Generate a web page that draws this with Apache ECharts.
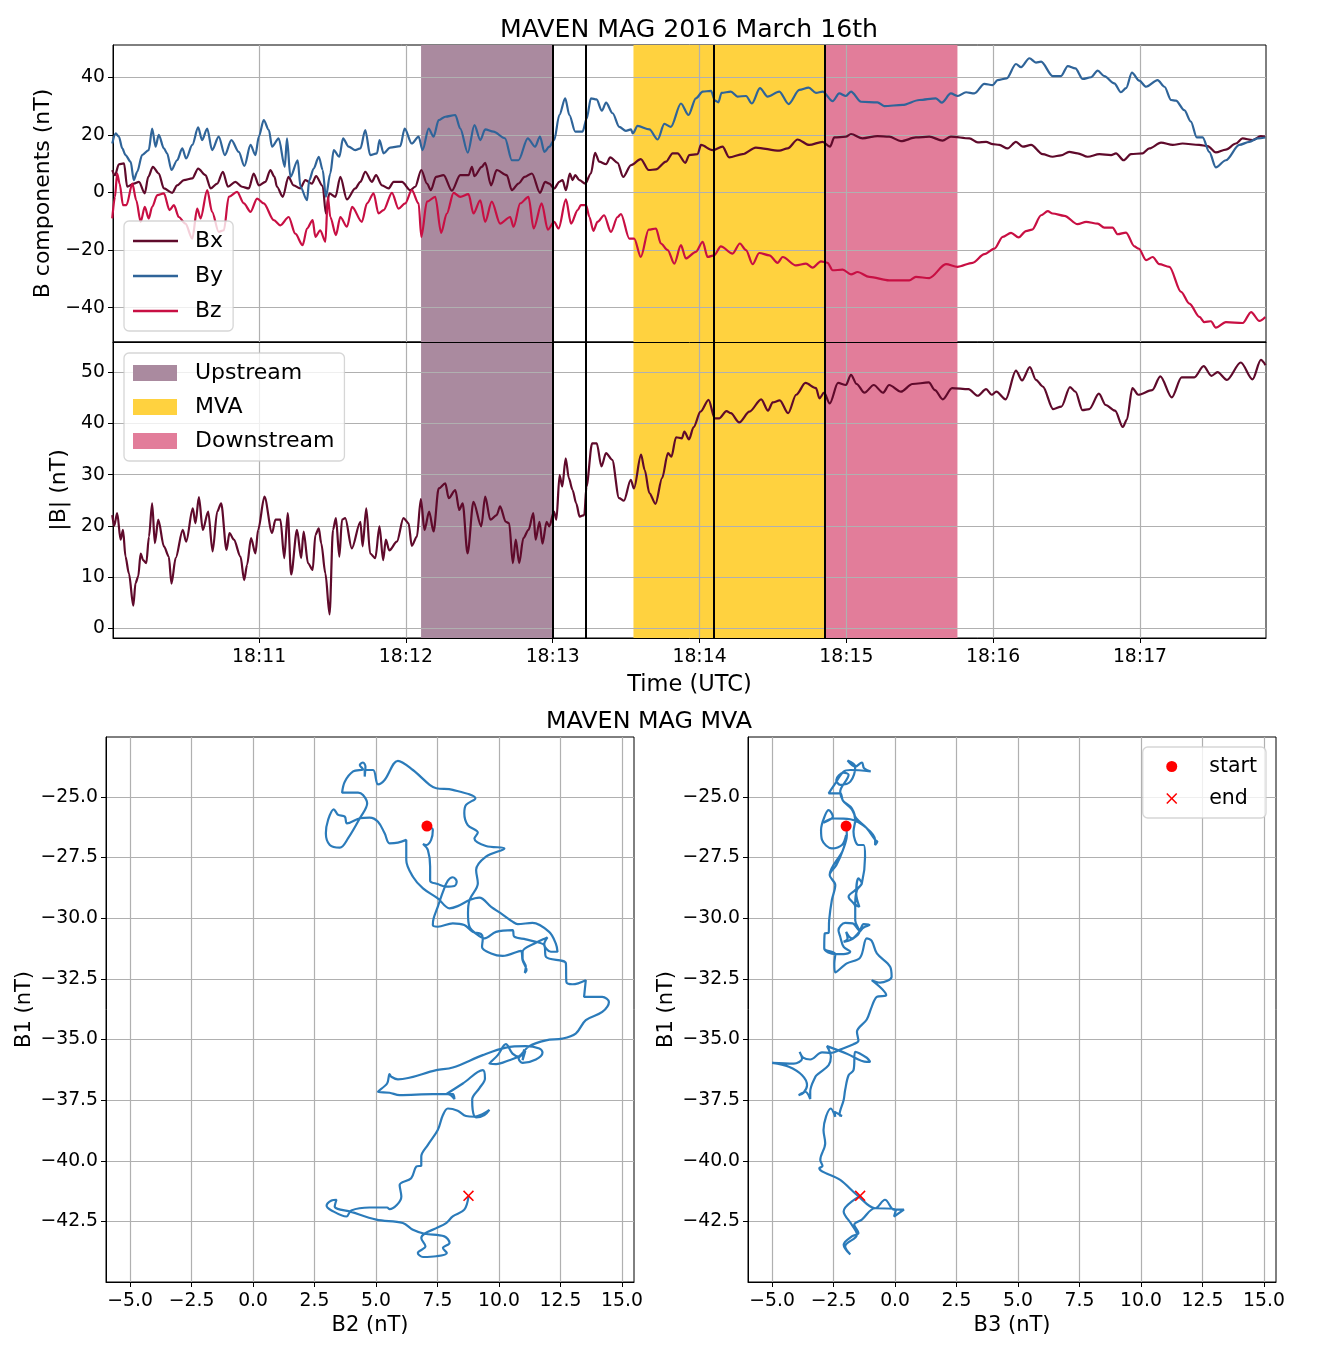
<!DOCTYPE html>
<html><head><meta charset="utf-8">
<style>html,body{margin:0;padding:0;background:#fff}#c{width:1324px;height:1356px}</style>
<script src="https://cdn.jsdelivr.net/npm/echarts@6/dist/echarts.min.js"></script>
</head><body><div id="c"></div>
<script>
// Values: [seconds after 18:10:00, nT]
const bx=[[0,7.8],[1.1,6],[2.7,9.8],[4.8,10.1],[6.1,2],[8.8,3.1],[10.9,3.7],[13.3,-0.3],[14.7,5.4],[16.6,8.9],[19,6.6],[21.1,1.4],[24.5,-0.1],[26.5,2.5],[29.3,4.3],[32.7,4.9],[35.1,8.3],[38.1,6],[40.2,1.4],[42.9,3.1],[45.2,7.2],[47.3,2],[50.3,3.7],[53,2],[55.8,1.4],[57.8,6.6],[59.9,2.5],[62.6,3.7],[64.6,7.8],[66.3,5.4],[67.3,2],[69.7,-1.5],[72,5.4],[74.1,2.5],[76.8,1.4],[78.9,4.3],[81.6,3.1],[83.3,5.7],[86,2.2],[87.3,-7.3],[88.7,-0.3],[91.2,-1.5],[93.2,5.4],[95.9,-2.4],[99.3,1.4],[101.4,3.7],[103.4,7.2],[106.1,3.7],[107.8,6],[110.2,2.5],[112.9,1.4],[115,3.7],[118.4,3.7],[121.8,0.8],[123.8,2],[126.3,7.8],[128.6,3.1],[130.2,0.8],[132.3,5.4],[135.4,6],[138.8,0.6],[142.2,6],[145.6,6],[147,8.9],[148,5.7],[151,8.9],[152.4,10.3],[154.8,2.5],[157.1,7.8],[161.2,6],[163.3,0.8],[166,3.1],[168.5,5.4],[171.5,6.6],[174.8,-0.1],[176.9,3.7],[178.6,3.1],[180.6,1.4],[182.7,3.7],[184,4.3],[185.4,0.8],[187,6.6],[188.1,4.3],[189.2,6],[190.9,4.3],[193.3,3.1],[195.6,6.6],[197.3,13.8],[199,10.7],[201.8,9.8],[203.5,12.2],[206.5,10.3],[208.8,5.4],[212,9.5],[216,11.6],[219.2,7.8],[222.2,8],[226.3,10.7],[229,13.6],[231,13.6],[234.2,10.3],[235.8,13],[239.2,13.3],[240.6,16.5],[245.3,14.7],[249.4,15.9],[252.1,12.2],[257.6,13.3],[263,15.6],[272.6,14.5],[276,15.3],[280.1,18.4],[284.8,16.5],[290.3,17.6],[293.3,15.9],[295.1,19.1],[299.8,19.4],[301.9,20.3],[306.6,18.8],[312.7,19.6],[317.5,19.4],[322.3,17.8],[328.4,19.1],[333.9,19.4],[339.3,18],[342.7,19.4],[350.3,18.8],[353.7,17.4],[357.1,17.6],[359.8,16.8],[362.5,16.5],[365.9,15.3],[369.3,17.6],[372.1,15.9],[375.5,16.5],[380.2,13.3],[384.3,12.4],[387.7,12.9],[391.1,14.1],[394.5,13.6],[398.6,12.4],[403.4,13.3],[408.2,13],[410.2,13.6],[413.3,11.2],[416.3,13.3],[421.1,13.6],[423.8,15.3],[428.6,17.3],[433.4,16.5],[437.4,17],[444.2,16.5],[447.7,16.1],[451,13.9],[455.1,14.9],[459.2,17],[461.9,18.8],[466,18.2],[469.4,19.6],[471.2,19.4]];
const by=[[0,17],[1.4,20.5],[2.7,19.4],[4.1,15.3],[5.4,13],[7.5,10.7],[8.8,4.3],[10.2,7.2],[12.2,13],[14.9,14.7],[16.3,22.2],[17.7,15.9],[19,20],[21.1,15.3],[22.4,13.6],[24.2,7.8],[26.5,11.2],[28.6,15.3],[30.2,11.8],[32.7,16.5],[35.1,22.6],[36.7,18.2],[38.8,22.2],[40.8,14.7],[43.5,19.4],[46,13],[48.7,18.2],[51.7,14.1],[54,9.2],[56.5,16.5],[58.5,13],[59.9,19.4],[61.9,25.1],[64,21.7],[65.3,15.9],[68,18.8],[70.5,8.9],[71.4,18.8],[72.8,5.4],[75.8,11.2],[76.9,2],[79.6,-2.7],[80.5,4.3],[82.3,8.3],[84.4,12.4],[86,7.8],[87.3,-1.5],[89.1,6.6],[90.5,14.7],[92.8,12.4],[94.3,18.8],[96.6,15.9],[99.3,14.7],[101.4,15.3],[103.4,21.7],[105.4,13],[108.2,13.6],[109.2,18.2],[110.9,13.6],[113.6,15.6],[117.7,16.1],[119.5,22.2],[122.4,17],[125.2,19.4],[126.8,14.7],[129.3,22.2],[131.3,19.4],[133.4,25.1],[136.1,26.3],[140.2,26.9],[142.2,22.2],[145.3,13.8],[148,23.4],[150.4,18.2],[152.4,21.9],[155.8,21.1],[160.5,18.8],[163.3,11.2],[166,11.2],[169.8,18.8],[172.8,15.9],[174.8,19.4],[176.6,14.1],[178.6,15.9],[180.6,18.2],[182.7,26.9],[185.1,32.7],[186.8,26.9],[189.2,21.1],[192.2,21.1],[193.9,25.7],[195.6,32.7],[197.9,32.3],[200.1,28.4],[201.8,31.2],[204.5,27.5],[207.2,22.8],[209.9,21.4],[212,21.9],[212.7,20.5],[214.7,23.1],[219.5,21.9],[222.9,18.4],[225.6,23.8],[228.3,22.8],[232.4,30.9],[235.5,26.9],[238.5,32.7],[241.3,35],[244.7,35.3],[246.3,31.9],[247.7,31.3],[249,34.6],[252.8,35],[255.5,33.3],[259,33.5],[261.4,30.9],[264.7,36.2],[267.8,33.3],[272.6,35],[276.4,30.7],[280.8,35.6],[284.6,36.4],[287.6,34.6],[290.3,35],[294.4,31.7],[297.1,34.4],[299.8,33.5],[301.9,35],[306,31.5],[312.7,31.3],[315.5,30],[323,30.4],[329.8,32.1],[336.6,32.7],[339,31.2],[342.7,34.4],[345.5,33.5],[348.9,34.8],[352.3,34.4],[356.4,37.7],[359.8,37.3],[361.8,39],[365.5,39.6],[369.3,44.6],[371.4,43.5],[374.8,46.6],[377.5,45.1],[379.6,45.4],[384.3,40.4],[387.7,40.4],[390.5,43.9],[393.6,43.1],[396.6,39.4],[400,40],[402.7,42.3],[405.4,40.4],[409.5,37.9],[412.2,34.8],[414.3,36.2],[416.7,41.6],[419.7,38.8],[422.5,36.7],[427.2,39],[430,36.7],[432.7,32.1],[434.7,31.9],[438.1,28.6],[440.8,24.6],[443.2,19.1],[445.6,19.1],[448.3,14.1],[451,8.7],[455.1,11.2],[460.6,16.5],[464.7,17.6],[468.1,18.8],[471.2,19.1]];
const bz=[[0,-9],[1.1,-1.5],[2,6.6],[3,3.1],[4.4,-4.4],[5.8,-4.4],[8.2,3.1],[9.8,-2.7],[11.6,-10.2],[13.3,-5],[14.9,-9],[16.3,-5],[18.4,-0.9],[21.1,-0.3],[23.4,-6.1],[25.2,-4.4],[27.2,-8.5],[29.9,-10.8],[32.7,-16],[34.7,-5.6],[36.1,-9],[38.8,0.8],[40.8,-6.7],[43.5,-13.7],[45.6,-13.1],[47.6,-1.5],[51,0.2],[53.8,-3.8],[56.5,-6.7],[59.2,-2.1],[61.9,-3.8],[66,-9.6],[68.7,-11.4],[72.1,-8.5],[74.8,-14.3],[77.8,-18.3],[79.6,-12.5],[81.9,-9.6],[83,-15.4],[85,-13.1],[87.1,-17.1],[88.1,-1.5],[89.1,-8.5],[91.4,-14.8],[93.2,-8.5],[95.9,-11.9],[98,-5],[102,-10.2],[104.1,-3.8],[106.8,-0.3],[108.8,-7.3],[110.9,-6.1],[114.3,-0.1],[117,-5.6],[119.7,-3.8],[122.4,0.8],[125.2,-3.8],[126.3,-15.4],[128.6,-3.2],[132,-1.5],[134.4,-14],[136.7,-7.3],[139.5,-0.1],[142.2,-1.5],[145.6,-0.6],[147.6,-7.3],[150.4,-2.7],[152.4,-10.2],[155.1,-3.2],[158.5,-10.8],[162.6,-8.5],[164,-11.9],[166.7,-3.8],[170.1,-1.5],[172.2,-12.5],[175.5,-3.8],[178,-12.9],[180.6,-10.2],[182.4,-12.5],[185.4,-2.4],[187.5,-10.8],[190.2,-6.1],[191.5,-4.4],[193.6,-4.4],[195,-8.5],[196.6,-13.3],[198.3,-10.2],[201,-7.9],[203.8,-13.7],[206.5,-8.5],[207.9,-7.5],[211.3,-16],[213.3,-16],[216,-22.4],[219.2,-12.9],[222.2,-12.5],[224.2,-17.7],[227,-20],[229.7,-24.7],[232.4,-18.3],[234.4,-22.9],[238.5,-20.6],[241.3,-17.1],[243.3,-22.4],[246,-21.8],[248.7,-18.7],[253.5,-21.2],[256.5,-17.7],[259,-20],[261.7,-24.9],[264.4,-21],[268.5,-21.8],[271.9,-24.4],[274,-22.4],[279.4,-25.3],[283.5,-24.7],[286.2,-26.1],[289.6,-23.9],[292.3,-24.4],[294.4,-27],[298.5,-26.8],[301.9,-28.4],[304.6,-27.6],[309.4,-29.3],[317.5,-30.5],[325.7,-30.5],[328.4,-29.3],[333.9,-29.7],[340.7,-24.9],[345.4,-25.8],[351.6,-24.4],[356.4,-21.4],[360.5,-19.5],[363.9,-15.4],[367.3,-14],[370.4,-15.6],[373.4,-13.4],[375.9,-12.9],[379.6,-7.9],[382.3,-6.5],[384.3,-7.3],[389.1,-8.1],[394.5,-11],[398,-10.2],[402.7,-10.8],[405.4,-12.2],[408.8,-12.2],[410.9,-14.5],[414.3,-13.9],[417.7,-18.7],[419.5,-19.5],[422.5,-23.5],[425.2,-22.4],[427.9,-24.9],[432,-25.8],[436.8,-34.5],[440.2,-38.6],[444.3,-43.2],[446.3,-45],[449,-44.7],[451,-46.9],[455.1,-45],[462,-45.3],[465.4,-41.5],[468.8,-44.6],[471.2,-43.2]];
const bt=[[0,22.1],[0.8,20],[2,22.5],[3.4,17.3],[4.4,19.2],[5.4,14],[6.8,10.7],[8.6,4.4],[9.5,8.8],[10.6,10.1],[11.6,14.6],[12.6,13.3],[13.9,12.7],[15,17.9],[16.3,24.4],[17.4,16.6],[18.8,21.2],[21.1,16],[23.1,14],[24.2,8.7],[25.9,13.7],[28.8,19.2],[30.2,16.9],[32.9,23.4],[34,20.5],[35.4,25.6],[37,19.2],[39.2,22.8],[41,15],[42.9,22.8],[44.5,24.4],[46.7,15.3],[47.9,18.6],[49.7,17.3],[52.4,14],[53.9,9.4],[55.1,12.4],[56.7,17.6],[58.5,14.6],[59.6,19.2],[62.2,25.7],[65.3,18.6],[66.7,21.2],[68.7,21.2],[70.3,13.7],[71.7,22.5],[73.1,10.5],[75.5,19.2],[77.2,13.7],[78.2,18.9],[80,12.7],[81.9,11.4],[83,18.2],[84.4,19.5],[85.4,16.6],[87.1,10.7],[88.8,2.7],[90.2,19.2],[91.4,21.5],[92.8,14],[93.9,21.2],[95.2,21.5],[97.9,15.6],[101.4,20.8],[102.3,16],[103.8,23.4],[105.4,14.6],[107.5,13.7],[109.2,19.9],[110.7,13.3],[111.8,17.3],[113.2,15.2],[116.3,16.9],[119,21.5],[121.1,20.5],[122.4,16.1],[124.5,17.9],[126.1,25.2],[127.6,19.2],[129.5,22.8],[131.3,18.9],[133.4,27.3],[136.1,28.3],[137.5,25.4],[140.2,27],[141.8,23.1],[143.2,24.4],[145.2,14.6],[147.6,24.7],[150.8,19.9],[152.4,25.7],[154.5,21.2],[157.1,22.1],[158.5,23.8],[160.8,20.8],[162.2,20.5],[163.7,12.7],[164.9,17.3],[166.3,12.7],[168,17.6],[170.1,19.2],[172.1,22.5],[173,17.3],[174.6,20.8],[175.8,16.5],[177.5,20.8],[178.6,19.9],[180.5,22.8],[181.5,21.2],[182.8,29.9],[183.9,27.7],[185.3,33.2],[186.6,29.3],[188.1,27],[189.6,24.4],[191,21.8],[192.9,22.1],[193.8,27.7],[196.1,36.1],[198,36.1],[199.9,31.6],[201.8,34.2],[204.3,32.9],[207.1,25.4],[209.1,24.9],[211.9,29],[213.2,27.3],[216.1,33.9],[217.6,30.9],[219.5,26.4],[222,24.3],[224.7,29.3],[227.1,34.2],[228.5,33.5],[230.4,37.3],[232.8,37.1],[233.8,38.4],[235.7,36.9],[237.6,39.3],[240.4,42.3],[243.7,44.6],[246.2,41],[248.1,41],[251,42.4],[252.8,42],[256.2,40.2],[260.4,42.3],[265.2,44.7],[268,42.5],[269.9,44.1],[272.8,44.5],[276.2,42],[279.5,45.6],[283.3,47.9],[287.6,46.9],[289,44.9],[290.9,46],[293.2,43.9],[296.6,47.9],[299.8,47.5],[301.9,49.5],[304.2,47.7],[307.4,46],[311.2,47.5],[315,46],[317.5,47.5],[322.3,46.2],[327,47.7],[333.7,48],[336.2,46.5],[339.4,44.7],[343.2,46.9],[349.9,46.7],[353.7,45.4],[357.1,46.7],[359.4,45.6],[361.3,46.2],[365.1,44.7],[369.3,50.3],[371.8,48.4],[375,51],[377.5,48.5],[380.3,47.2],[384.5,42.8],[387.9,43.3],[391.4,47.1],[393.6,46.2],[396.5,42.6],[399.3,42.8],[403.2,45.8],[406,43.6],[409.8,42.5],[413,39.3],[414.6,40.7],[416.9,46.9],[419.3,45.6],[425,46.5],[428.3,49.2],[433,45.1],[437,49],[442.2,49],[446,51.2],[449.2,49.3],[451.7,50],[455.5,48.5],[461.2,51.9],[466,48.6],[469.4,52.4],[471.3,51.4]];
// MVA hodograms: [B2, B1] and [B3, B1]
const mvaB2B1=[[7.07,-26.2],[7.31,-26.36],[7.24,-26.77],[7.04,-26.98],[6.91,-26.94],[7.11,-27.19],[7.2,-27.87],[7.2,-28.45],[7.51,-28.59],[7.85,-28.7],[8.19,-28.67],[8.28,-28.49],[8.12,-28.31],[7.92,-28.45],[7.72,-28.91],[7.51,-29.53],[7.34,-30.01],[7.31,-30.28],[7.51,-30.35],[8.12,-30.21],[8.59,-30.28],[8.93,-30.56],[9.27,-30.65],[9.34,-30.83],[9.31,-31.18],[9.68,-31.45],[10.15,-31.55],[10.89,-31.34],[10.96,-31.73],[11.12,-32.14],[11.05,-32.25],[11.09,-32],[10.96,-31.66],[10.96,-31.38],[11.5,-31.01],[11.97,-30.79],[11.84,-31.07],[12.11,-31.38],[12.38,-31.38],[12.31,-31.04],[12.04,-30.56],[11.36,-30.19],[10.76,-30.24],[10.55,-30.14],[10.08,-29.8],[9.68,-29.53],[9.2,-29.15],[8.8,-29.25],[8.32,-29.5],[7.99,-29.59],[7.51,-29.18],[6.91,-28.77],[6.5,-28.29],[6.23,-27.6],[6.23,-26.77],[5.89,-26.88],[5.55,-26.91],[5.35,-26.5],[5.08,-26.02],[4.74,-25.85],[4.34,-25.88],[3.82,-26.09],[3.73,-25.81],[3.46,-25.74],[3.28,-25.51],[3.05,-25.95],[2.96,-26.5],[3.12,-26.98],[3.53,-27.09],[3.86,-26.71],[4.34,-25.88],[4.64,-25.26],[4.47,-24.92],[4.27,-24.82],[3.62,-24.82],[3.73,-24.37],[4.07,-23.95],[4.47,-23.86],[4.34,-23.68],[4.47,-23.58],[4.57,-23.75],[4.54,-24.16],[4.54,-23.89],[4.88,-23.89],[5.08,-24.48],[5.35,-24.3],[5.89,-23.51],[6.5,-23.89],[7.18,-24.5],[7.45,-24.64],[8.12,-24.71],[9.04,-25.06],[8.66,-25.33],[8.59,-25.67],[8.73,-26.16],[9.14,-26.47],[9,-26.71],[9.47,-27.02],[10.22,-27.12],[9.47,-27.46],[9.07,-28.01],[9.14,-28.56],[8.8,-29.25],[8.74,-29.8],[8.8,-30.35],[9.2,-30.74],[9.41,-30.83],[9.88,-30.56],[10.55,-30.49],[10.62,-30.76],[11.09,-30.87],[11.5,-30.97],[11.84,-31.11],[11.91,-31.59],[12.72,-31.86],[12.74,-32.62],[12.99,-32.72],[13.53,-32.55],[13.46,-33.24],[14.2,-33.24],[14.47,-33.45],[14.2,-33.86],[13.53,-34.2],[13.12,-34.75],[12.58,-34.96],[11.91,-35.03],[11.23,-35.27],[10.82,-35.68],[10.42,-35.85],[9.88,-36.01],[9.61,-35.99],[9.95,-35.64],[10.28,-35.19],[10.55,-35.58],[10.82,-35.71],[11.03,-35.41],[10.96,-35.85],[11.07,-35.47],[10.8,-35.78],[10.96,-35.96],[11.5,-35.82],[11.77,-35.53],[11.64,-35.37],[11.09,-35.27],[10.28,-35.33],[9.34,-35.64],[8.12,-36.15],[7.45,-36.26],[5.89,-36.64],[5.62,-36.53],[5.55,-36.42],[5.45,-36.81],[5.08,-37.15],[5.55,-37.19],[5.96,-37.29],[7.31,-37.25],[7.92,-37.25],[8.19,-37.45],[8.12,-37.25],[7.85,-37.25],[8.53,-36.81],[9.34,-36.26],[9.43,-36.6],[9.2,-37.01],[8.91,-37.47],[8.93,-37.9],[9.07,-38.21],[9.41,-38.11],[9.61,-37.9],[9.34,-38.07],[9,-38.18],[8.66,-38.15],[8.32,-37.93],[7.92,-37.84],[7.72,-38.11],[7.51,-38.73],[7.11,-39.34],[6.84,-39.82],[6.84,-40.19],[6.64,-40.23],[6.43,-40.71],[5.96,-40.99],[6.03,-41.47],[5.55,-41.99],[5.45,-41.92],[4.74,-41.92],[3.99,-42.04],[3.8,-42.29],[3.19,-42.04],[2.99,-41.85],[3.19,-41.63],[3.39,-41.6],[3.32,-41.88],[3.99,-42.1],[5.01,-42.42],[6.09,-42.56],[6.5,-42.84],[6.97,-43],[7.78,-43.11],[7.99,-43.38],[7.72,-43.59],[7.88,-43.79],[7.45,-43.93],[6.91,-43.96],[6.7,-43.79],[7.01,-43.52],[6.84,-43.18],[6.97,-43],[7.45,-42.77],[7.85,-42.56],[8.12,-42.29],[8.59,-42.01],[8.76,-41.47]];
const mvaB3B1=[[-1.99,-26.2],[-1.96,-26.57],[-2.12,-27.19],[-2.39,-27.81],[-2.66,-28.22],[-2.43,-28.63],[-2.57,-29.25],[-2.68,-30.08],[-2.7,-30.6],[-2.86,-30.63],[-2.88,-31.24],[-2.43,-31.48],[-2.09,-31.48],[-1.82,-31.38],[-2.09,-31.18],[-2.23,-30.76],[-2.3,-30.49],[-2.03,-30.19],[-1.72,-30.21],[-1.45,-30.49],[-1.28,-30.24],[-1.04,-30.28],[-1.28,-30.38],[-1.45,-30.56],[-1.76,-30.83],[-1.99,-30.56],[-1.93,-30.83],[-2.09,-30.97],[-1.76,-30.87],[-1.45,-30.56],[-1.62,-30.08],[-1.62,-29.53],[-1.89,-29.11],[-1.62,-28.84],[-1.35,-28.56],[-1.49,-28.36],[-1.58,-28.98],[-1.45,-29.53],[-1.62,-29.39],[-1.55,-28.84],[-1.35,-28.56],[-1.22,-27.46],[-1.28,-26.98],[-1.49,-26.98],[-1.69,-26.43],[-1.62,-25.95],[-1.76,-25.47],[-2.12,-25.15],[-2.23,-24.85],[-2.7,-24.85],[-2.43,-24.44],[-2.09,-23.95],[-1.82,-23.89],[-0.99,-23.95],[-1.26,-23.82],[-1.35,-23.58],[-1.62,-23.75],[-1.93,-23.5],[-1.62,-23.75],[-1.82,-24.37],[-2.23,-24.5],[-2.39,-24.3],[-2.09,-24],[-1.89,-24.09],[-2.23,-24.78],[-2.12,-25.15],[-1.76,-25.51],[-1.58,-25.88],[-1.15,-26.29],[-0.81,-26.77],[-0.72,-26.84],[-0.81,-26.98],[-0.81,-26.77],[-1.15,-26.29],[-1.82,-25.92],[-2.5,-25.88],[-2.91,-26.06],[-2.53,-25.81],[-2.7,-25.54],[-2.84,-25.74],[-3.01,-26.36],[-2.97,-26.77],[-2.57,-27.12],[-2.16,-26.98],[-1.99,-26.57],[-2.12,-27.19],[-2.66,-28.22],[-2.43,-28.63],[-2.57,-29.25],[-2.68,-30.08],[-2.7,-30.6],[-2.86,-30.63],[-2.88,-31.24],[-2.43,-31.48],[-2.47,-31.86],[-2.43,-32.23],[-1.96,-31.86],[-1.42,-31.62],[-1.15,-30.83],[-0.95,-30.93],[-0.74,-31.45],[-0.2,-32],[-0.14,-32.41],[-0.61,-32.65],[-0.95,-32.55],[-0.36,-33.17],[-0.74,-33.24],[-0.95,-33.65],[-1.15,-34.17],[-1.55,-34.68],[-1.49,-35.05],[-1.69,-35.19],[-2.23,-35.41],[-2.61,-35.55],[-2.97,-35.53],[-3.45,-35.82],[-3.74,-35.74],[-3.88,-35.51],[-3.78,-35.78],[-4.12,-35.99],[-5,-35.96],[-4.32,-36.12],[-3.78,-36.47],[-3.58,-36.88],[-3.72,-37.19],[-3.92,-37.29],[-3.65,-37.15],[-3.45,-37.45],[-3.45,-37.15],[-3.24,-36.53],[-3.11,-36.4],[-2.7,-36.05],[-2.61,-35.71],[-2.77,-35.27],[-1.96,-35.58],[-1.15,-35.92],[-1.01,-35.92],[-1.15,-35.75],[-1.62,-35.51],[-1.69,-36.26],[-1.89,-36.47],[-2.03,-37.08],[-2.09,-37.49],[-2.26,-38.11],[-2.16,-38.15],[-2.47,-37.97],[-2.43,-38.18],[-2.61,-37.84],[-2.91,-38.73],[-2.84,-39.27],[-3.04,-39.96],[-2.95,-40.21],[-3.08,-40.3],[-2.23,-40.78],[-1.55,-41.4],[-0.81,-41.95],[-0.41,-41.6],[-0.04,-42.01],[0.36,-42.01],[-0.04,-42.29],[0.04,-41.99],[-0.81,-41.95],[-1.35,-42.42],[-1.66,-42.63],[-1.49,-42.97],[-1.76,-43.11],[-2.09,-43.45],[-1.82,-43.86],[-2.03,-43.52],[-1.55,-43.04],[-1.76,-42.63],[-2.09,-42.08],[-1.42,-41.44]];
const startB2=[[7.07,-26.2]], endB2=[[8.76,-41.44]], startB3=[[-1.99,-26.2]], endB3=[[-1.42,-41.44]];
const spans=[['Upstream',126.2,180,'#aa8a9f'],['MVA',213,291,'#ffd23f'],['Downstream',291,345.4,'#e27d9a']];
const vlines=[180,193.3,246,291];
const timeTicks=[60,120,180,240,300,360,420];
const compTicks=[-40,-20,0,20,40];
const magTicks=[0,10,20,30,40,50];
const mvaXTicks=[-5,-2.5,0,2.5,5,7.5,10,12.5,15];
const mvaYTicks=[-25,-27.5,-30,-32.5,-35,-37.5,-40,-42.5];

const FONT='DejaVu Sans', TICK=18.8, LABEL=21;
const minus=s=>String(s).replace('-','\u2212');
const XMARK='path://M1,0L5,4L9,0L10,1L6,5L10,9L9,10L5,6L1,10L0,9L4,5L0,1Z';
function axis(kind,gi,min,max,ticks,fmt,name,gap,showLabels,nameSize){
  return {type:'value',gridIndex:gi,min,max,z:1,
    name:name||'',nameLocation:'middle',nameGap:gap||0,
    nameTextStyle:{fontFamily:FONT,fontSize:nameSize||LABEL,color:'#000'},
    axisLine:{show:true,onZero:false,lineStyle:{color:'#000',width:1}},
    axisTick:{show:showLabels,length:5,inside:false,lineStyle:{color:'#000',width:1},customValues:ticks},
    axisLabel:{show:showLabels,customValues:ticks,formatter:fmt,margin:kind==='y'?8:9.5,fontFamily:FONT,fontSize:TICK,color:'#000',
      padding:kind==='y'?[3.5,0,0,0]:0},
    splitLine:{show:true,lineStyle:{color:'#b0b0b0',width:1.2}}
  };
}
const tfmt=v=>'18:'+(10+Math.round(v/60));
const f0=v=>minus(v);
const f1=v=>minus(Number(v).toFixed(1));
const grids=[
 {left:113,top:45,width:1153,height:297},
 {left:113,top:342,width:1153,height:296},
 {left:106,top:737,width:528,height:545},
 {left:748,top:737,width:528,height:545}
].map(g=>Object.assign(g,{show:true,borderColor:'#000',borderWidth:1,backgroundColor:'#fff',z:0,containLabel:false}));
const xAxes=[
 axis('x',0,0.3,471.5,timeTicks,tfmt,'',0,false),
 axis('x',1,0.3,471.5,timeTicks,tfmt,'Time (UTC)',36,true,22.5),
 axis('x',2,-5.98,15.49,mvaXTicks,f1,'B2 (nT)',33,true),
 axis('x',3,-5.98,15.49,mvaXTicks,f1,'B3 (nT)',33,true)
];
const yAxes=[
 axis('y',0,-51.9,51.2,compTicks,f0,'B components (nT)',56,true,22),
 axis('y',1,-1.9,55.9,magTicks,f0,'|B| (nT)',40,true,22),
 axis('y',2,-44.99,-22.53,mvaYTicks,f1,'B1 (nT)',71,true),
 axis('y',3,-44.99,-22.53,mvaYTicks,f1,'B1 (nT)',71,true)
];
const series=[];
[0,1].forEach(i=>{
  spans.forEach(s=>series.push({type:'line',name:s[0],xAxisIndex:i,yAxisIndex:i,data:[],z:0,silent:true,
    itemStyle:{color:s[3]},lineStyle:{color:s[3]},symbol:'none',
    markArea:{silent:true,z:0,itemStyle:{color:s[3],opacity:1},data:[[{xAxis:s[1]},{xAxis:s[2]}]]}}));
});
const ln=(name,data,color,i,smooth,w)=>({type:'line',name,data,xAxisIndex:i,yAxisIndex:i,symbol:'none',z:3,silent:true,
  smooth,smoothMonotone:i<2?'x':undefined,lineStyle:{color,width:w},itemStyle:{color},emphasis:{disabled:true}});
series.push(ln('Bx',bx,'#5f0a2b',0,0.3,2.2),ln('By',by,'#2f6499',0,0.3,2.2),ln('Bz',bz,'#c80f43',0,0.3,2.2),ln('|B|',bt,'#5f0a2b',1,0.3,2.2));
[0,1].forEach(i=>series.push({type:'line',name:'vl'+i,data:[],xAxisIndex:i,yAxisIndex:i,z:4,silent:true,symbol:'none',
  markLine:{silent:true,symbol:'none',z:4,label:{show:false},lineStyle:{color:'#000',width:2,type:'solid'},
    data:vlines.map(v=>({xAxis:v}))}}));
[[2,mvaB2B1,startB2,endB2],[3,mvaB3B1,startB3,endB3]].forEach(([i,path,st,en])=>{
  series.push(ln('mva'+i,path,'#2b7bba',i,0.35,2.2));
  series.push({type:'scatter',name:'start',data:st,xAxisIndex:i,yAxisIndex:i,symbol:'circle',symbolSize:11,z:5,silent:true,itemStyle:{color:'#ff0000',opacity:1}});
  series.push({type:'scatter',name:'end',data:en,xAxisIndex:i,yAxisIndex:i,symbol:XMARK,symbolSize:11,z:5,silent:true,itemStyle:{color:'#ff0000',opacity:1}});
});
const legendBase={orient:'vertical',selectedMode:false,backgroundColor:'rgba(255,255,255,0.8)',borderColor:'rgba(204,204,204,0.8)',borderWidth:1.3,borderRadius:5,z:10};
const lText=(size,pad)=>({fontFamily:FONT,fontSize:size,color:'#000',padding:[0,0,0,pad]});
const option={animation:false,backgroundColor:'#fff',
 title:[
  {text:'MAVEN MAG 2016 March 16th',left:684,top:13,textAlign:'center',textStyle:{fontFamily:FONT,fontSize:25.2,fontWeight:'normal',color:'#000'}},
  {text:'MAVEN MAG MVA',left:644,top:705,textAlign:'center',textStyle:{fontFamily:FONT,fontSize:23.8,fontWeight:'normal',color:'#000'}}
 ],
 grid:grids,xAxis:xAxes,yAxis:yAxes,series,
 legend:[
  Object.assign({},legendBase,{left:124,top:221,padding:[9,10,9,9],itemGap:13,itemWidth:45,itemHeight:2.5,icon:'rect',textStyle:lText(22,12),data:['Bx','By','Bz']}),
  Object.assign({},legendBase,{left:124,top:353,padding:[9,10,9,9],itemGap:12,itemWidth:44,itemHeight:16,icon:'rect',textStyle:lText(22,13),data:['Upstream','MVA','Downstream']}),
  Object.assign({},legendBase,{right:58,top:747,padding:[9,9,9,23.5],itemGap:11,itemWidth:40,itemHeight:11,textStyle:lText(20.5,12.5),data:['start','end']})
 ]
};
const chart=echarts.init(document.getElementById('c'),null,{renderer:'canvas'});
chart.setOption(option);
</script></body></html>
